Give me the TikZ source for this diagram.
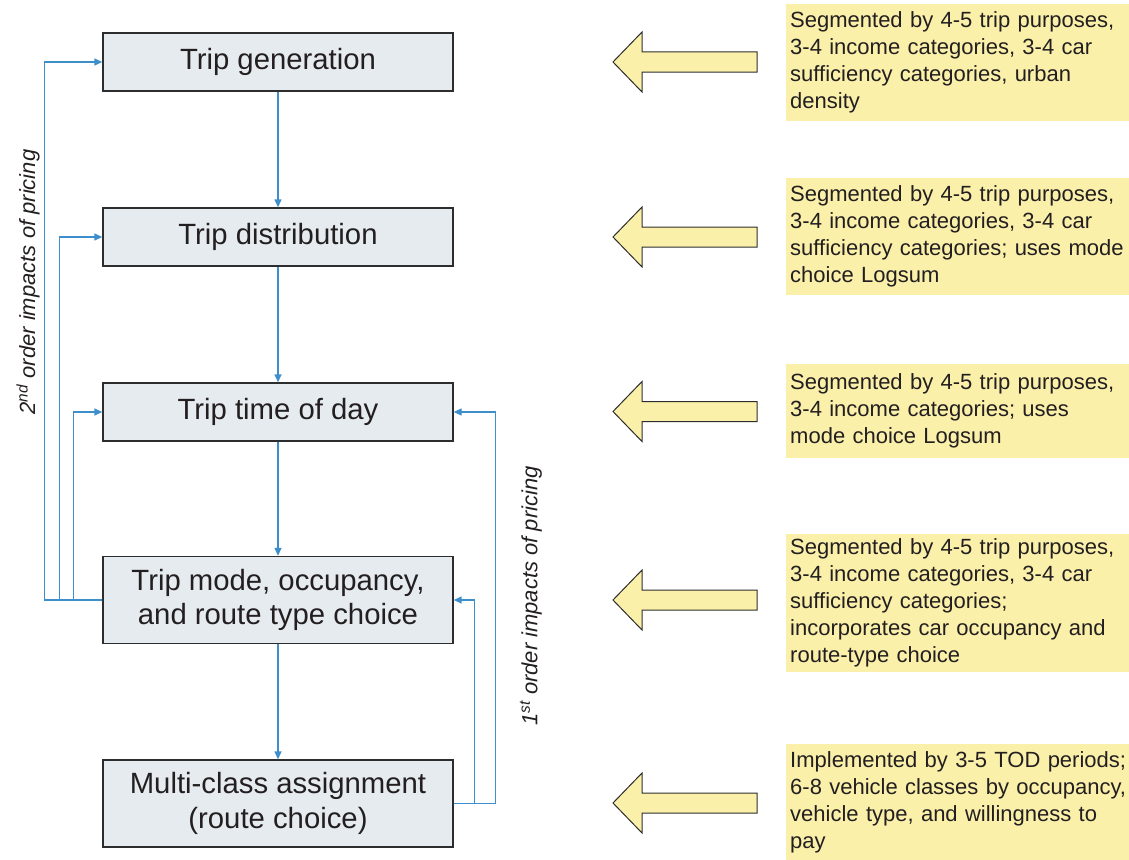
\documentclass[tikz,border=0pt]{standalone}
\usepackage{fontspec}
\setmainfont{Liberation Sans}
\usetikzlibrary{arrows.meta}
\definecolor{flowblue}{RGB}{61,143,204}
\definecolor{stepfill}{RGB}{230,235,240}
\definecolor{notefill}{RGB}{250,240,170}
\definecolor{edgegray}{RGB}{45,45,45}
\definecolor{inkgray}{RGB}{35,31,32}

\begin{document}
\begin{tikzpicture}[x=1pt,y=-1pt,
  stagebox/.style={draw=edgegray, line width=1.4pt, fill=stepfill, text=inkgray,
    minimum width=350pt, inner sep=0pt, align=center,
    font=\fontsize{29.3}{34.5}\selectfont},
  notebox/.style={fill=notefill, anchor=west, text=inkgray, text width=400pt,
    inner xsep=4pt, inner ysep=0pt, align=left,
    font=\fontsize{22}{27}\selectfont},
  flow/.style={draw=flowblue, line width=1.4pt, -{Triangle[length=8pt,width=7pt]}},
  sidelabel/.style={rotate=90, text=inkgray, font=\fontsize{22}{27}\selectfont\itshape},
  bigarrow/.style={fill=notefill, draw=edgegray, line width=1pt, line join=miter}]
\useasboundingbox (0,0) rectangle (1129,859);
\clip (0,0) rectangle (1129,859);

% model stages
\node[stagebox, minimum height=58pt] (gen) at (278,62) {Trip generation};
\node[stagebox, minimum height=58pt] (dist) at (278,237) {Trip distribution};
\node[stagebox, minimum height=58pt] (tod) at (278,412) {Trip time of day};
\node[stagebox, minimum height=87pt] (mode) at (278,600) {Trip mode, occupancy,\\and route type choice};
\node[stagebox, minimum height=87pt] (assign) at (278,803.5) {Multi-class assignment\\(route choice)};

% main sequence
\draw[flow] (gen) -- (dist);
\draw[flow] (dist) -- (tod);
\draw[flow] (tod) -- (mode);
\draw[flow] (mode) -- (assign);

% second order feedback
\draw[flow] (mode.west) -- ++(-58,0) |- (gen.west);
\draw[flow] (mode.west) -- ++(-43,0) |- (dist.west);
\draw[flow] (mode.west) -- ++(-29,0) |- (tod.west);

% first order feedback
\draw[flow] (assign.east) -- ++(42,0) |- (tod.east);
\draw[flow] (assign.east) -- ++(21,0) |- (mode.east);

% side labels
\node[sidelabel] (second) at (28,282) {2\textsuperscript{nd} order impacts of pricing};
\node[sidelabel] (first) at (531,596) {1\textsuperscript{st} order impacts of pricing};

% block arrows
\foreach \yy in {62,237,411.5,600,803}
  \draw[bigarrow] (757,\yy-10) -- (642,\yy-10) -- (642,\yy-30) -- (613,\yy)
    -- (642,\yy+30) -- (642,\yy+10) -- (757,\yy+10) -- cycle;

% segmentation notes
\node[notebox, minimum height=117pt] (n1) at (786,62.5)
  {Segmented by 4-5 trip purposes,\\3-4 income categories, 3-4 car\\sufficiency categories, urban\\density};
\node[notebox, minimum height=117pt] (n2) at (786,236.5)
  {Segmented by 4-5 trip purposes,\\3-4 income categories, 3-4 car\\sufficiency categories; uses mode\\choice Logsum};
\node[notebox, minimum height=94pt] (n3) at (786,411)
  {Segmented by 4-5 trip purposes,\\3-4 income categories; uses\\mode choice Logsum};
\node[notebox, minimum height=138pt] (n4) at (786,603)
  {Segmented by 4-5 trip purposes,\\3-4 income categories, 3-4 car\\sufficiency categories;\\incorporates car occupancy and\\route-type choice};
\node[notebox, minimum height=117pt] (n5) at (786,802.5)
  {Implemented by 3-5 TOD periods;\\6-8 vehicle classes by occupancy,\\vehicle type, and willingness to\\pay};
\end{tikzpicture}
\end{document}
